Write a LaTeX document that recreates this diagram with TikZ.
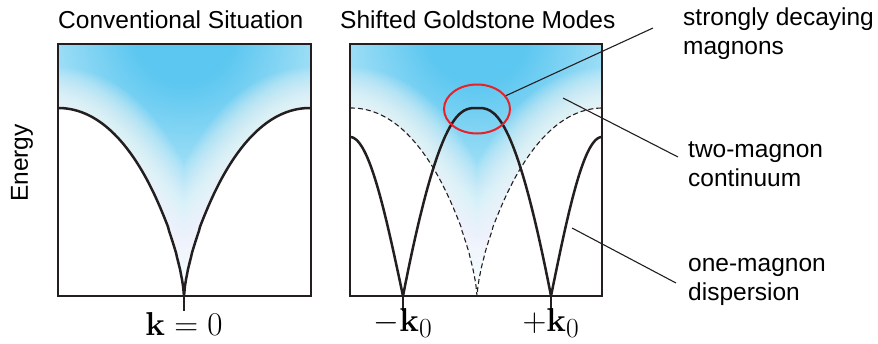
\documentclass[tikz,border=0pt]{standalone}
\usepackage[no-math]{fontspec}
\setmainfont{Liberation Sans}
\usetikzlibrary{shapes.geometric}
\definecolor{glow}{RGB}{92,199,240}
\definecolor{ink}{RGB}{35,31,32}
\definecolor{ringred}{RGB}{232,32,40}
\pgfdeclareradialshading{glowshade}{\pgfpoint{0bp}{0bp}}{color(0bp)=(glow); color(5bp)=(glow); color(25bp)=(white); color(50bp)=(white)}
\tikzset{
  panel/.style={draw=ink, line width=2.5pt},
  disp/.style={draw=ink, line width=2.5pt, line join=round},
  contb/.style={draw=ink, line width=1.1pt, dash pattern=on 5pt off 3pt},
  leader/.style={draw=ink, line width=1.1pt},
  tick/.style={draw=ink, line width=2.5pt},
  haze/.style={draw=white, draw opacity=0.065, line join=round},
  lbl/.style={align=left, anchor=base west, inner sep=0pt},
  mlbl/.style={anchor=base, inner sep=0pt, font=\fontsize{24.88}{30}\selectfont},
}
\newcommand{\mlab}[1]{\scalebox{1.33}{$#1$}}
\begin{document}
\begin{tikzpicture}[x=1pt,y=-1pt, font=\fontsize{24.5}{29}\selectfont]
\useasboundingbox (0,0) rectangle (878,343);

% ---------- left panel shading ----------
\begin{scope}
  \clip (58,44) -- (311,44) -- plot[domain=311:58, samples=254] (\x,{296-188*sin(90*((abs(\x-184)+0.001)/126)^0.7)}) -- cycle;
  \shade[shading=glowshade] (184,32) ellipse (250 and 255);
  \foreach \w in {4,8,...,80}
    \draw[haze, line width=\w pt] plot[domain=58:311, samples=254] (\x,{296-188*sin(90*((abs(\x-184)+0.001)/126)^0.7)});
\end{scope}
% ---------- right panel shading ----------
\begin{scope}
  \clip (350,44) -- (602,44) -- plot[domain=602:350, samples=253] (\x,{296-188*sin(90*((min(abs(\x-477),126)+0.001)/126)^0.7)}) -- cycle;
  \shade[shading=glowshade] (477,32) ellipse (250 and 255);
  \foreach \w in {4,8,...,80}
    \draw[haze, line width=\w pt] plot[domain=350:602, samples=253] (\x,{296-188*sin(90*((min(abs(\x-477),126)+0.001)/126)^0.7)});
\end{scope}

% ---------- left panel curves ----------
\draw[disp] plot[domain=58:311, samples=254] (\x,{296-188*sin(90*((abs(\x-184)+0.001)/126)^0.7)});
\draw[panel] (58,44) rectangle (311,296);
\draw[tick] (184,296) -- (184,311);

% ---------- right panel curves ----------
\draw[contb] plot[domain=350:602, samples=253] (\x,{296-188*sin(90*((min(abs(\x-477),126)+0.001)/126)^0.7)});
\draw[disp] plot[domain=350:403, samples=54] (\x,{296-159*sin((403-\x)/53*90)})
  .. controls (440,106) and (461,108) .. (477,108)
  .. controls (493,108) and (514,106) .. (551,296)
  -- plot[domain=551:602, samples=52] (\x,{296-159*sin((\x-551)/51*90)});
\draw[panel] (350,44) rectangle (602,296);
\draw[tick] (403,296) -- (403,311);
\draw[tick] (551,296) -- (551,311);

\node[ellipse, draw=ringred, line width=2pt, minimum width=66pt, minimum height=49pt, inner sep=0pt] (ring) at (477,109) {};

% ---------- titles ----------
\node[anchor=base west, inner sep=0pt] (t1) at (58,28) {Conventional Situation};
\node[anchor=base west, inner sep=0pt] (t2) at (340,28) {Shifted Goldstone Modes};
\node[rotate=90] (energy) at (22,163) {Energy};

% ---------- axis labels ----------
\node[mlbl] (kz) at (184,335) {\mlab{\mathbf{k}=0}};
\node[mlbl] (km) at (403,331) {\mlab{-\mathbf{k}_0}};
\node[mlbl] (kp) at (551,331) {\mlab{+\mathbf{k}_0}};

% ---------- annotations ----------
\node[lbl] (sdm) at (683,54) {strongly decaying\\magnons};
\node[lbl] (tmc) at (688,186) {two-magnon\\continuum};
\node[lbl] (omd) at (688,300) {one-magnon\\dispersion};

\coordinate (e1) at (653,28);
\coordinate (s2) at (563,98);
\coordinate (e2) at (678,157);
\coordinate (s3) at (572,228);
\coordinate (e3) at (676,283);
\draw[leader] (ring) -- (e1);
\draw[leader] (s2) -- (e2);
\draw[leader] (s3) -- (e3);
\end{tikzpicture}
\end{document}
